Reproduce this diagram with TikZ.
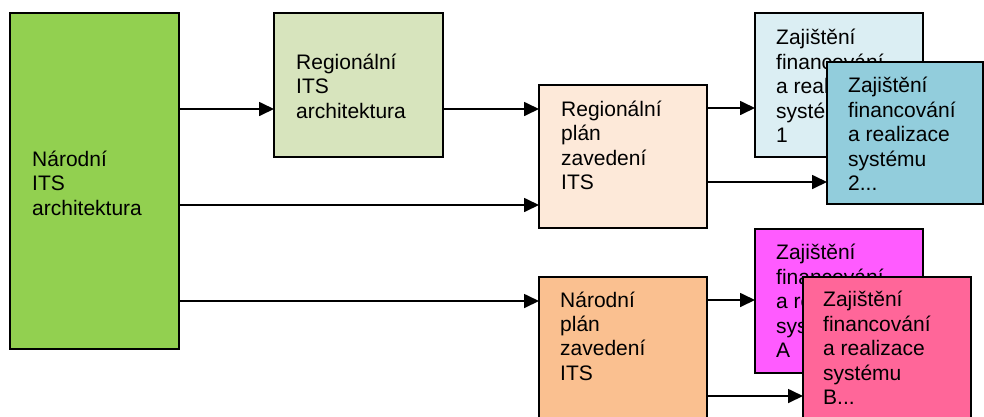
\documentclass[tikz,border=0pt]{standalone}
\usepackage{fontspec}
\setmainfont{Liberation Sans}
\usetikzlibrary{arrows.meta}
\definecolor{cgreen}{HTML}{92D050}
\definecolor{clgreen}{HTML}{D7E4BD}
\definecolor{cpeach}{HTML}{FDE9D9}
\definecolor{clblue}{HTML}{DBEEF3}
\definecolor{cblue}{HTML}{92CDDC}
\definecolor{corange}{HTML}{FAC090}
\definecolor{cmagenta}{HTML}{FF5BFF}
\definecolor{cpink}{HTML}{FF6699}
\tikzset{
  box/.style={draw=black, line width=2pt, rectangle, anchor=north west, inner sep=0pt, outer sep=0pt},
  txt/.style={anchor=west, align=left, inner sep=0pt, font=\fontsize{21}{24.4}\selectfont},
  arr/.style={line width=1.7pt, -{Triangle[length=15pt,width=14pt]}}
}
\begin{document}
\begin{tikzpicture}[x=1pt,y=-1pt]
\useasboundingbox (0,0) rectangle (984,416);
\clip (0,0) rectangle (984,416);
\fill[white] (0,0) rectangle (984,416);
% boxes with their texts, in stacking order
\node[box, fill=cgreen, minimum width=169pt, minimum height=336pt] (B1) at (10,13) {};
\node[txt] (T1) at (32,183) {Národní\\ITS\\architektura};
\node[box, fill=clgreen, minimum width=169pt, minimum height=144pt] (B2) at (274,13) {};
\node[txt] (T2) at (296,86) {Regionální\\ITS\\architektura};
\node[box, fill=cpeach, minimum width=168pt, minimum height=143pt] (B3) at (539,85) {};
\node[txt] (T3) at (561,145.5) {Regionální\\plán\\zavedení\\ITS};
\node[box, fill=corange, minimum width=168pt, minimum height=153pt] (B4) at (539,277) {};
\node[txt] (T4) at (560,336) {Národní\\plán\\zavedení\\ITS};
\node[box, fill=clblue, minimum width=168pt, minimum height=144pt] (Z1) at (755,13) {};
\node[txt] (TZ1) at (776,86) {Zajištění\\financování\\a realizace\\systému\\1};
\node[box, fill=cblue, minimum width=156pt, minimum height=142pt] (Z2) at (827,62) {};
\node[txt] (TZ2) at (848,134) {Zajištění\\financování\\a realizace\\systému\\2...};
\node[box, fill=cmagenta, minimum width=168pt, minimum height=144pt] (ZA) at (755,229) {};
\node[txt] (TZA) at (776,301) {Zajištění\\financování\\a realizace\\systému\\A};
\node[box, fill=cpink, minimum width=168pt, minimum height=153pt] (ZB) at (803,277) {};
\node[txt] (TZB) at (823,348) {Zajištění\\financování\\a realizace\\systému\\B...};
% connectors
\coordinate (ya) at (0,109);
\coordinate (yb) at (0,205);
\coordinate (yc) at (0,301);
\coordinate (yd) at (0,108);
\coordinate (ye) at (0,182);
\coordinate (yf) at (0,300);
\coordinate (yg) at (0,396);
\draw[arr] (B1.east |- ya) -- (B2.west |- ya);
\draw[arr] (B1.east |- yb) -- (B3.west |- yb);
\draw[arr] (B1.east |- yc) -- (B4.west |- yc);
\draw[arr] (B2.east |- ya) -- (B3.west |- ya);
\draw[arr] (B3.east |- yd) -- (Z1.west |- yd);
\draw[arr] (B3.east |- ye) -- (Z2.west |- ye);
\draw[arr] (B4.east |- yf) -- (ZA.west |- yf);
\draw[arr] (B4.east |- yg) -- (ZB.west |- yg);
\end{tikzpicture}
\end{document}
